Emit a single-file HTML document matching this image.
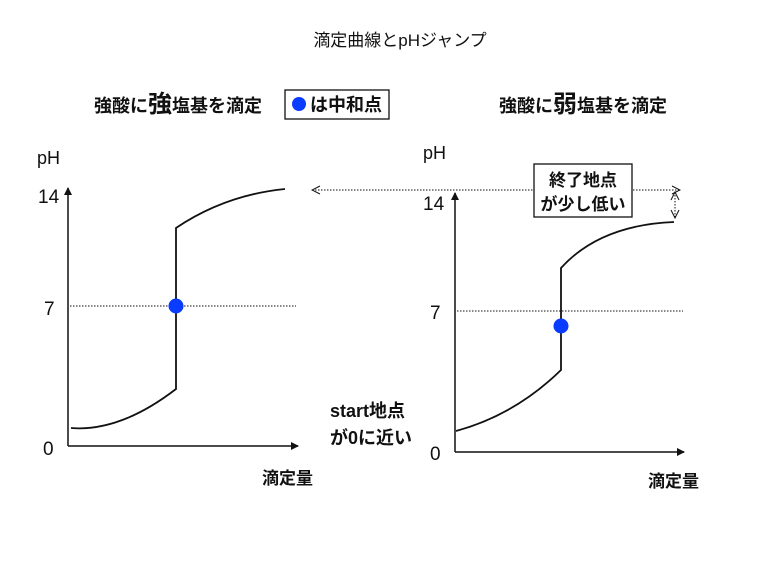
<!DOCTYPE html>
<html><head><meta charset="utf-8"><style>
body{margin:0;background:#fff}
svg text{font-family:"Liberation Sans","Noto Sans CJK JP",sans-serif;fill:#111}
</style></head><body>
<svg width="768" height="576" xmlns="http://www.w3.org/2000/svg">
<defs>
<marker id="a" markerWidth="8" markerHeight="8" refX="7" refY="4" orient="auto" markerUnits="userSpaceOnUse"><path d="M0,0 L8,4 L0,8 z" fill="#111"/></marker>
<marker id="o" markerWidth="10" markerHeight="10" refX="9" refY="5" orient="auto" markerUnits="userSpaceOnUse"><path d="M1,1 L9,5 L1,9" fill="none" stroke="#111" stroke-width="1"/></marker>
<marker id="os" markerWidth="10" markerHeight="10" refX="1" refY="5" orient="auto" markerUnits="userSpaceOnUse"><path d="M9,1 L1,5 L9,9" fill="none" stroke="#111" stroke-width="1"/></marker>
</defs>
<text x="400" y="46" font-size="17" text-anchor="middle">滴定曲線とpHジャンプ</text>
<text x="178" y="112" font-size="18" text-anchor="middle" font-weight="bold">強酸に<tspan font-size="24">強</tspan>塩基を滴定</text>
<rect x="285" y="90" width="104" height="29" fill="#fff" stroke="#111" stroke-width="1.3"/>
<circle cx="299" cy="104" r="7" fill="#0a3cff"/>
<text x="310" y="111" font-size="18" font-weight="bold">は中和点</text>
<text x="583" y="112" font-size="18" text-anchor="middle" font-weight="bold">強酸に<tspan font-size="24">弱</tspan>塩基を滴定</text>
<!-- left -->
<text x="37" y="164" font-size="18">pH</text>
<text x="38" y="203" font-size="19">14</text>
<text x="44" y="315" font-size="19">7</text>
<text x="43" y="455" font-size="19">0</text>
<line x1="68" y1="446" x2="68" y2="188" stroke="#111" stroke-width="1.5" marker-end="url(#a)"/>
<line x1="68" y1="446" x2="298" y2="446" stroke="#111" stroke-width="1.5" marker-end="url(#a)"/>
<line x1="70" y1="306" x2="296" y2="306" stroke="#111" stroke-dasharray="1.5,1.5"/>
<path d="M71,428 Q120,432 176,389 L176,228 Q225,195 285,189" fill="none" stroke="#111" stroke-width="1.8"/>
<circle cx="176" cy="306" r="7.5" fill="#0a3cff"/>
<text x="262" y="484" font-size="17" font-weight="bold">滴定量</text>
<text x="330" y="417" font-size="18" font-weight="bold">start地点</text>
<text x="330" y="444" font-size="18" font-weight="bold">が0に近い</text>
<!-- right -->
<text x="423" y="159" font-size="18">pH</text>
<text x="423" y="210" font-size="19">14</text>
<text x="430" y="319" font-size="19">7</text>
<text x="430" y="460" font-size="19">0</text>
<line x1="455" y1="452" x2="455" y2="193" stroke="#111" stroke-width="1.5" marker-end="url(#a)"/>
<line x1="455" y1="452" x2="684" y2="452" stroke="#111" stroke-width="1.5" marker-end="url(#a)"/>
<line x1="457" y1="311" x2="683" y2="311" stroke="#111" stroke-dasharray="1.5,1.5"/>
<path d="M456,431 Q515,415 561,370 L561,268 Q600,225 674,222" fill="none" stroke="#111" stroke-width="1.8"/>
<circle cx="561" cy="326" r="7.5" fill="#0a3cff"/>
<text x="648" y="487" font-size="17" font-weight="bold">滴定量</text>
<line x1="312" y1="190" x2="680" y2="190" stroke="#111" stroke-dasharray="1.5,1.5" marker-start="url(#os)" marker-end="url(#o)"/>
<line x1="675" y1="192" x2="675" y2="218" stroke="#111" stroke-dasharray="1.5,1.5" marker-start="url(#os)" marker-end="url(#o)"/>
<rect x="534" y="164" width="98" height="53" fill="#fff" stroke="#111" stroke-width="1.3"/>
<text x="583" y="186" font-size="17" text-anchor="middle" font-weight="bold">終了地点</text>
<text x="583" y="210" font-size="17" text-anchor="middle" font-weight="bold">が少し低い</text>
</svg>
</body></html>
